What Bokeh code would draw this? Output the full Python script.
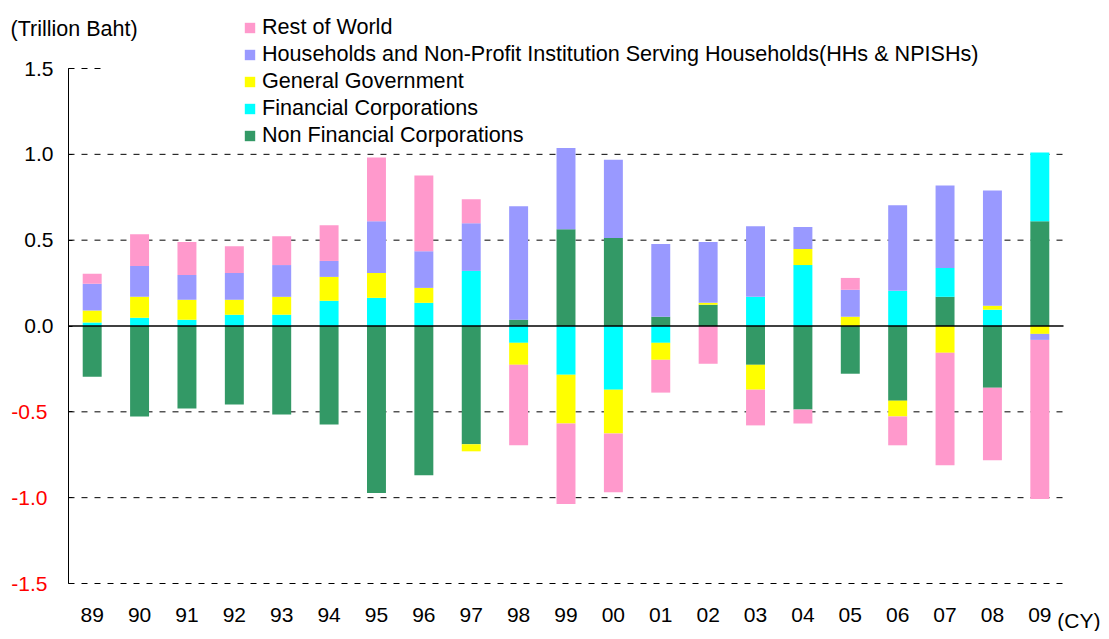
from bokeh.plotting import figure
from bokeh.models import (ColumnDataSource, Range1d, FixedTicker, LinearAxis,
                          Legend, LegendItem, Label)
from bokeh.embed import file_html
from bokeh.resources import INLINE

years = ["89", "90", "91", "92", "93", "94", "95", "96", "97", "98", "99",
         "00", "01", "02", "03", "04", "05", "06", "07", "08", "09"]

nfc = [-0.295, -0.527, -0.481, -0.458, -0.516, -0.574, -0.973, -0.869, -0.689, 0.037, 0.564,
       0.512, 0.054, 0.124, -0.226, -0.487, -0.278, -0.435, 0.170, -0.359, 0.610]
fc = [0.020, 0.048, 0.037, 0.066, 0.066, 0.147, 0.164, 0.135, 0.321, -0.098, -0.284,
      -0.371, -0.098, 0.000, 0.170, 0.355, 0.000, 0.205, 0.168, 0.095, 0.400]
gg = [0.070, 0.122, 0.116, 0.087, 0.104, 0.139, 0.145, 0.087, -0.041, -0.128, -0.284,
      -0.255, -0.099, 0.011, -0.145, 0.093, 0.054, -0.092, -0.156, 0.023, -0.046]
hh = [0.156, 0.180, 0.144, 0.156, 0.185, 0.093, 0.301, 0.214, 0.278, 0.660, 0.481,
      0.457, 0.423, 0.354, 0.411, 0.128, 0.157, 0.498, 0.481, 0.672, -0.035]
row = [0.058, 0.185, 0.192, 0.156, 0.168, 0.208, 0.371, 0.441, 0.139, -0.469, -0.469,
       -0.342, -0.191, -0.220, -0.208, -0.081, 0.069, -0.168, -0.655, -0.423, -0.927]

series_names = ["Non Financial Corporations", "Financial Corporations", "General Government",
                "Households and Non-Profit Institution Serving Households(HHs & NPISHs)",
                "Rest of World"]
series_values = [nfc, fc, gg, hh, row]
series_colors = ["#339966", "#00FFFF", "#FFFF00", "#9999FF", "#FF99CC"]

y_ticks = [-1.5, -1.0, -0.5, 0.0, 0.5, 1.0, 1.5]
y_min, y_max = -1.5, 1.5

# ---- layout constants (pixels) ----
W, H = 1101, 631
PX_LEFT, PX_RIGHT = 68, 1063      # plot-area left / right edge
PX_TOP, PX_BOTTOM = 68, 583       # pixel rows of y_max / y_min
FONT = "Liberation Sans"
FS = "21px"
FS_LEG = "21.6px"

n = len(years)
xpos = list(range(n))
x_lo, x_hi = -0.5, n - 0.5
ux = (PX_RIGHT - PX_LEFT) / (x_hi - x_lo)
X_START = x_lo - PX_LEFT / ux
X_END = X_START + W / ux
uy = (PX_BOTTOM - PX_TOP) / (y_max - y_min)
Y_END = y_max + PX_TOP / uy
Y_START = Y_END - H / uy

p = figure(x_range=Range1d(X_START, X_END), y_range=Range1d(Y_START, Y_END),
           width=W, height=H, output_backend="svg", toolbar_location=None,
           min_border=0)
p.outline_line_color = None
p.background_fill_color = "white"
p.xgrid.visible = False
p.ygrid.visible = False

# dashed grid lines (drawn across the plot area only)
grid_vals = [t for t in y_ticks if t not in (0.0, y_max)]
p.segment(x0=[x_lo] * len(grid_vals), x1=[x_hi] * len(grid_vals), y0=grid_vals, y1=grid_vals,
          line_color="black", line_dash="6 7", line_width=1)
# visible stub of the top grid line (the rest lies behind the legend area)
p.segment(x0=[x_lo], x1=[x_lo + 0.82], y0=[y_max], y1=[y_max],
          line_color="black", line_dash="6 7", line_width=1)

# stacked bars (positive upward, negative downward)
pos_acc = [0.0] * n
neg_acc = [0.0] * n
renderers = {}
for name, vals, color in zip(series_names, series_values, series_colors):
    bottoms, tops = [], []
    for i, v in enumerate(vals):
        if v >= 0:
            bottoms.append(pos_acc[i]); tops.append(pos_acc[i] + v); pos_acc[i] += v
        else:
            bottoms.append(neg_acc[i]); tops.append(neg_acc[i] + v); neg_acc[i] += v
    src = ColumnDataSource(dict(x=xpos, bottom=bottoms, top=tops))
    r = p.vbar(x="x", bottom="bottom", top="top", width=0.4, source=src,
               fill_color=color, line_color=None)
    renderers[name] = r

# zero line on top of bars
p.segment(x0=[x_lo], x1=[x_hi], y0=[0.0], y1=[0.0], line_color="black", line_width=1.5)

# y axis (black labels for >= 0)
ya = p.yaxis[0]
ya.fixed_location = x_lo
ya.bounds = (y_min, y_max)
ya.ticker = FixedTicker(ticks=y_ticks)
ya.major_label_overrides = {t: (f"{t:.1f}" if t >= 0 else "") for t in y_ticks}
ya.major_label_text_font = FONT
ya.major_label_text_font_size = FS
ya.major_label_text_color = "black"
ya.major_label_standoff = 15
ya.major_tick_in = 4
ya.major_tick_out = 0
ya.minor_tick_line_color = None
ya.axis_line_color = "black"
ya.major_tick_line_color = "black"

# second y axis at same place: red labels for negative values
ya2 = LinearAxis(fixed_location=x_lo, bounds=(y_min, y_max), ticker=FixedTicker(ticks=y_ticks))
ya2.major_label_overrides = {t: (f"{t:.1f}" if t < 0 else "") for t in y_ticks}
ya2.major_label_text_font = FONT
ya2.major_label_text_font_size = FS
ya2.major_label_text_color = "red"
ya2.major_label_standoff = 15
ya2.axis_line_color = None
ya2.major_tick_line_color = None
ya2.minor_tick_line_color = None
p.add_layout(ya2, "left")

# x axis
xa = p.xaxis[0]
xa.fixed_location = y_min
xa.ticker = FixedTicker(ticks=xpos)
xa.major_label_overrides = {i: y for i, y in zip(xpos, years)}
xa.axis_line_color = None
xa.major_tick_line_color = None
xa.minor_tick_line_color = None
xa.major_label_text_font = FONT
xa.major_label_text_font_size = FS
xa.major_label_text_color = "black"
xa.major_label_standoff = 18

# unit labels
p.add_layout(Label(x=10, x_units="screen", y=H - 28, y_units="screen", text="(Trillion Baht)",
                   text_align="left", text_baseline="middle", text_font=FONT,
                   text_font_size="21.5px", text_color="black"))
p.add_layout(Label(x=W - 1, x_units="screen", y=0, y_units="screen",
                   text="(CY)", text_align="right", text_baseline="bottom", text_font=FONT,
                   text_font_size=FS, text_color="black"))

legend_order = [4, 3, 2, 1, 0]
items = [LegendItem(label=series_names[i], renderers=[renderers[series_names[i]]]) for i in legend_order]
legend = Legend(items=items, location=(243, H - 148), orientation="vertical",
                glyph_width=13, glyph_height=13, label_height=25, spacing=1,
                label_standoff=6, padding=0, margin=0, border_line_color=None,
                background_fill_color="white", background_fill_alpha=1.0,
                label_text_font=FONT, label_text_font_size=FS_LEG, label_text_color="black")
p.add_layout(legend, "center")

open("out.html", "w").write(file_html(p, INLINE))
